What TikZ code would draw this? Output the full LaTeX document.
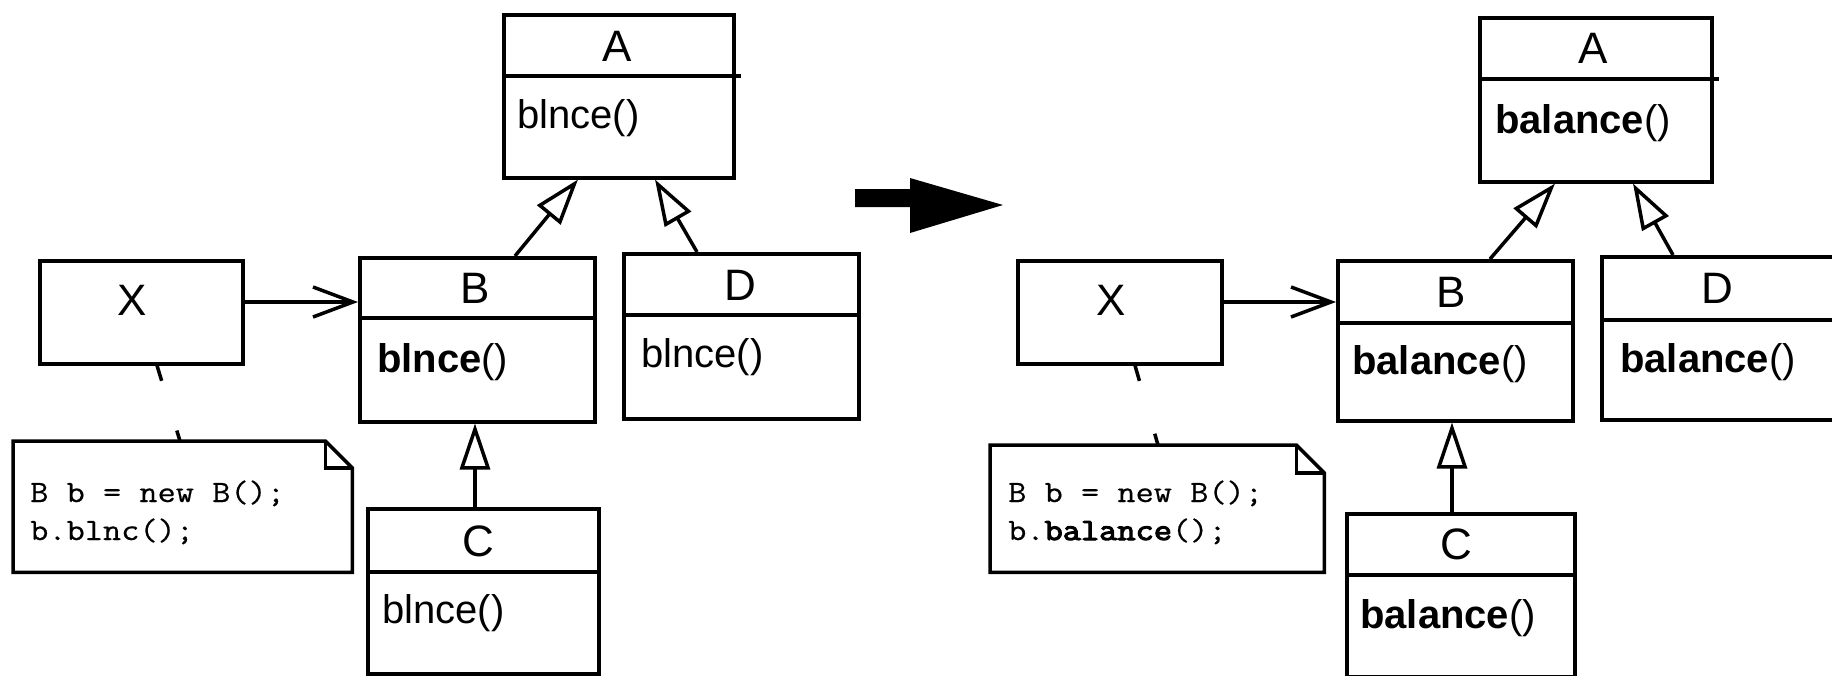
\documentclass[tikz,border=0pt]{standalone}
\usepackage{fontspec}
\setmainfont{Liberation Sans}
\newfontfamily\codefont{Latin Modern Mono}[FakeStretch=1.14, FakeBold=0.5, BoldFont={Latin Modern Mono}, BoldFeatures={FakeStretch=1.14, FakeBold=3.5}]
\usetikzlibrary{arrows.meta}
\tikzset{
  cls/.style={draw, line width=3.5pt, inner sep=0pt, anchor=north west},
  notebox/.style={draw=none, inner sep=0pt, anchor=north west},
  nm/.style={font=\fontsize{44}{50}\selectfont, anchor=base, inner sep=0pt},
  mth/.style={font=\fontsize{40}{46}\selectfont, anchor=base west, inner sep=0pt},
  code/.style={font=\codefont\fontsize{31}{34}\selectfont, anchor=base west, inner sep=0pt},
  gen/.style={line width=3.5pt, -{Triangle[open, length=46pt, width=30pt]}},
  assoc/.style={line width=3.5pt, -{Straight Barb[length=40pt, width=30pt]}},
  anchorline/.style={line width=3.5pt, dash pattern=on 16pt off 52pt},
  divider/.style={line width=3.5pt},
  outline/.style={line width=3.5pt, line join=miter},
}
\begin{document}
\begin{tikzpicture}[x=1pt, y=-1pt]
\useasboundingbox (0,0) rectangle (1832,675);
\fill[white] (0,0) rectangle (1832,675);
\clip (0,0) rectangle (1832,675);

% ---------------- left diagram ----------------
\node[cls, minimum width=230pt, minimum height=163pt] (lA) at (502,13) {};
\node[cls, minimum width=235pt, minimum height=164pt] (lB) at (358,256) {};
\node[cls, minimum width=235pt, minimum height=165pt] (lD) at (622,252) {};
\node[cls, minimum width=231pt, minimum height=165pt] (lC) at (366,507) {};
\node[cls, minimum width=203pt, minimum height=103pt] (lX) at (38,259) {};
\node[notebox, minimum width=339pt, minimum height=131pt] (lN) at (13,441) {};

\draw[divider] (lA.west |- 0,76) -- ([xshift=5pt]lA.east |- 0,76);
\draw[divider] (lB.west |- 0,318) -- (lB.east |- 0,318);
\draw[divider] (lD.west |- 0,315) -- (lD.east |- 0,315);
\draw[divider] (lC.west |- 0,572) -- (lC.east |- 0,572);

\draw[outline] (lN.north west) -- ([xshift=-27pt]lN.north east) -- ([yshift=-27pt]lN.north east)
  -- (lN.south east) -- (lN.south west) -- cycle;
\draw[outline] ([xshift=-27pt]lN.north east) -- ([xshift=-27pt,yshift=-27pt]lN.north east)
  -- ([yshift=-27pt]lN.north east);

\node[nm] (lAn) at (617,61) {A};
\node[nm] (lBn) at (475,303) {B};
\node[nm] (lDn) at (740,300) {D};
\node[nm] (lCn) at (478,556) {C};
\node[nm] (lXn) at (132,315) {X};

\node[mth] (lAm) at (517,128) {blnce()};
\node[mth] (lBm) at (377,372) {\textbf{blnce}()};
\node[mth] (lDm) at (641,367) {blnce()};
\node[mth] (lCm) at (382,623) {blnce()};

\node[code] (lN1) at (30,502) {B b = new B();};
\node[code] (lN2) at (30,540) {b.blnc();};

\draw[assoc] (lX.east |- 0,302) -- (lB.west |- 0,302);
\draw[gen] (lB.north -| 515,0) -- (lA.south -| 578,0);
\draw[gen] (lD.north -| 697,0) -- (lA.south -| 655,0);
\draw[gen] (lC.north -| 475,0) -- (lB.south -| 475,0);
\draw[anchorline] (lX.south -| 157,0) -- (lN.north -| 180,0);

% ---------------- transformation arrow ----------------
\fill[black] (855,189) -- (910,189) -- (910,178) -- (1003,205) -- (910,233)
  -- (910,207) -- (855,207) -- cycle;

% ---------------- right diagram ----------------
\node[cls, minimum width=232pt, minimum height=164pt] (rA) at (1478,16) {};
\node[cls, minimum width=235pt, minimum height=160pt] (rB) at (1336,259) {};
\node[cls, minimum width=235pt, minimum height=163pt] (rD) at (1600,255) {};
\node[cls, minimum width=228pt, minimum height=163pt] (rC) at (1345,512) {};
\node[cls, minimum width=204pt, minimum height=103pt] (rX) at (1016,259) {};
\node[notebox, minimum width=334pt, minimum height=127pt] (rN) at (990,445) {};

\draw[divider] (rA.west |- 0,79) -- ([xshift=5pt]rA.east |- 0,79);
\draw[divider] (rB.west |- 0,323) -- (rB.east |- 0,323);
\draw[divider] (rD.west |- 0,320) -- (rD.east |- 0,320);
\draw[divider] (rC.west |- 0,575) -- (rC.east |- 0,575);

\draw[outline] (rN.north west) -- ([xshift=-28pt]rN.north east) -- ([yshift=-28pt]rN.north east)
  -- (rN.south east) -- (rN.south west) -- cycle;
\draw[outline] ([xshift=-28pt]rN.north east) -- ([xshift=-28pt,yshift=-28pt]rN.north east)
  -- ([yshift=-28pt]rN.north east);

\node[nm] (rAn) at (1593,63) {A};
\node[nm] (rBn) at (1451,307) {B};
\node[nm] (rDn) at (1717,303) {D};
\node[nm] (rCn) at (1456,559) {C};
\node[nm] (rXn) at (1111,315) {X};

\node[mth] (rAm) at (1495,133) {\textbf{balance}()};
\node[mth] (rBm) at (1352,374) {\textbf{balance}()};
\node[mth] (rDm) at (1620,372) {\textbf{balance}()};
\node[mth] (rCm) at (1360,628) {\textbf{balance}()};

\node[code] (rN1) at (1008,502) {B b = new B();};
\node[code] (rN2) at (1008,540) {b.\textbf{balance}();};

\draw[assoc] (rX.east |- 0,302) -- (rB.west |- 0,302);
\draw[gen] (rB.north -| 1490,0) -- (rA.south -| 1555,0);
\draw[gen] (rD.north -| 1673,0) -- (rA.south -| 1633,0);
\draw[gen] (rC.north -| 1452,0) -- (rB.south -| 1452,0);
\draw[anchorline, dash pattern=on 16pt off 55pt] (rX.south -| 1135,0) -- (rN.north -| 1158,0);
\end{tikzpicture}
\end{document}
